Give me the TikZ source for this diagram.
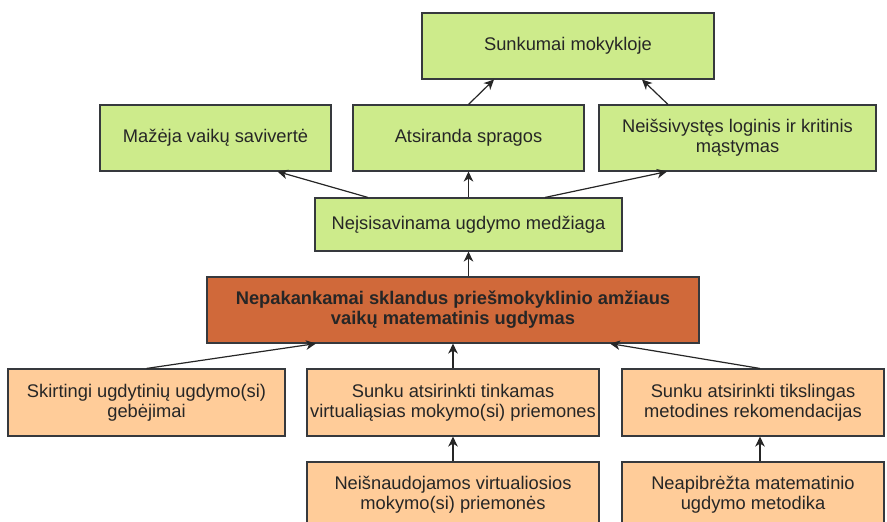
\documentclass[tikz,border=0pt]{standalone}
\usepackage{fontspec}
\setmainfont{Liberation Sans}
\usetikzlibrary{arrows.meta}
\definecolor{effectgreen}{HTML}{CDEB8B}
\definecolor{coreorange}{HTML}{D0693A}
\definecolor{causeorange}{HTML}{FFCC99}
\definecolor{edgegray}{HTML}{36393D}
\tikzset{
  box/.style={draw=edgegray, line width=1.1pt, align=center, inner sep=2pt,
    font=\fontsize{18.3}{20}\selectfont, text=black!85},
  effect/.style={box, fill=effectgreen},
  core/.style={box, fill=coreorange, font=\fontsize{18.3}{20}\selectfont\bfseries},
  cause/.style={box, fill=causeorange},
  link/.style={draw=black!85, line width=1.2pt, -{Stealth[length=10pt,width=9.5pt,inset=3pt]}}
}
\begin{document}
\begin{tikzpicture}[x=1pt,y=-1pt]
\useasboundingbox (0,0) rectangle (887,522);
\clip (0,0) rectangle (887,522);

% consequences
\node[effect, minimum width=292pt, minimum height=66pt] (top) at (568,46) {Sunkumai mokykloje};
\node[effect, minimum width=231pt, minimum height=66pt] (mazeja) at (215.5,138) {Mažėja vaikų savivertė};
\node[effect, minimum width=231pt, minimum height=66pt] (atsir) at (468.5,138) {Atsiranda spragos};
\node[effect, minimum width=277pt, minimum height=66pt] (neissi) at (737.5,138) {Neišsivystęs loginis ir kritinis\\mąstymas};
\node[effect, minimum width=307pt, minimum height=53pt] (neisis) at (468.5,224.5) {Neįsisavinama ugdymo medžiaga};

% central problem
\node[core, minimum width=492pt, minimum height=66pt] (main) at (453,310) {Nepakankamai sklandus priešmokyklinio amžiaus\\vaikų matematinis ugdymas};

% causes
\node[cause, minimum width=277pt, minimum height=67pt] (skirt) at (146.5,402.5) {Skirtingi ugdytinių ugdymo(si)\\gebėjimai};
\node[cause, minimum width=292pt, minimum height=67pt] (tink) at (453,402.5) {Sunku atsirinkti tinkamas\\virtualiąsias mokymo(si) priemones};
\node[cause, minimum width=262pt, minimum height=67pt] (tiksl) at (753,402.5) {Sunku atsirinkti tikslingas\\metodines rekomendacijas};
\node[cause, minimum width=292pt, minimum height=66pt] (neisn) at (453,495) {Neišnaudojamos virtualiosios\\mokymo(si) priemonės};
\node[cause, minimum width=262pt, minimum height=66pt] (neapi) at (753,495) {Neapibrėžta matematinio\\ugdymo metodika};

% connectors
\draw[link] ([xshift=-100.5pt]neisis.north) -- ([xshift=62pt]mazeja.south);
\draw[link] (neisis.north) -- (atsir.south);
\draw[link] ([xshift=76.5pt]neisis.north) -- ([xshift=-70.5pt]neissi.south);
\draw[link] (atsir.north) -- ([xshift=-74pt]top.south);
\draw[link] ([xshift=-69.5pt]neissi.north) -- ([xshift=74pt]top.south);
\draw[link] ([xshift=15.5pt]main.north) -- (neisis.south);
\draw[link] (skirt.north) -- ([xshift=-137pt]main.south);
\draw[link] (tink.north) -- (main.south);
\draw[link] ([xshift=7pt]tiksl.north) -- ([xshift=157pt]main.south);
\draw[link] (neisn.north) -- (tink.south);
\draw[link] ([xshift=7pt]neapi.north) -- ([xshift=7pt]tiksl.south);
\end{tikzpicture}
\end{document}
